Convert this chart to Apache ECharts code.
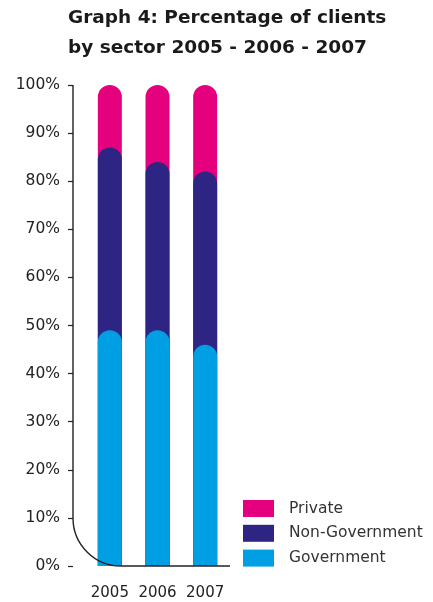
<!DOCTYPE html>
<html lang="en">
<head>
    <meta charset="UTF-8">
    <title>Graph 4</title>
    <script src="https://cdn.jsdelivr.net/npm/echarts@6/dist/echarts.min.js"></script>
    <style>body{margin:0;background:#fff;}</style>
</head>
<body>
<div id="main" style="width: 433px;height:602px;"></div>
<script>
    // data: share of clients per sector, percent
    var years = ['2005', '2006', '2007'];
    var government = [49, 49, 46];
    var nonGovernment = [38, 35, 36];
    var privateSector = [13, 16, 18];
    var yTicks = [0, 10, 20, 30, 40, 50, 60, 70, 80, 90, 100];

    var colors = { priv: '#e5007e', nongov: '#2e2483', gov: '#009fe3' };
    var font = 'DejaVu Sans';

    // each bar is drawn from zero up to the running total, lower sectors on top
    var govTop = government.slice();
    var nongovTop = government.map(function (v, i) { return v + nonGovernment[i]; });
    var privTop = nongovTop.map(function (v, i) { return v + privateSector[i]; });

    var myChart = echarts.init(document.getElementById('main'));

    function barSeries(name, data, color) {
        return {
            name: name,
            type: 'bar',
            data: data,
            barWidth: 24,
            barGap: '-100%',
            itemStyle: { color: color, borderRadius: [12, 12, 0, 0] }
        };
    }

    var option = {
        animation: false,
        title: {
            text: 'Graph 4: Percentage of clients\nby sector 2005 - 2006 - 2007',
            left: 68,
            top: 3,
            padding: 0,
            textStyle: { fontFamily: font, fontSize: 18.5, fontWeight: 'bold', color: '#1a1a1a', lineHeight: 30 }
        },
        legend: {
            data: ['Private', 'Non-Government', 'Government'],
            orient: 'vertical',
            left: 243,
            top: 500,
            padding: 0,
            itemWidth: 31,
            itemHeight: 17,
            itemGap: 7.8,
            icon: 'rect',
            textStyle: { fontFamily: font, fontSize: 15.5, color: '#333', padding: [0, 0, 0, 10] }
        },
        grid: { left: 86, right: 204, top: 85, bottom: 36 },
        xAxis: {
            type: 'category',
            data: years,
            axisLine: { show: false },
            axisTick: { show: false },
            axisLabel: { fontFamily: font, fontSize: 15, color: '#222', margin: 20, interval: 0 }
        },
        yAxis: {
            type: 'value',
            min: yTicks[0],
            max: yTicks[yTicks.length - 1],
            interval: 10,
            offset: 13,
            splitLine: { show: false },
            axisLine: { show: false },
            axisTick: { show: true, length: 5, lineStyle: { color: '#222', width: 1.2 } },
            axisLabel: { fontFamily: font, fontSize: 15.5, color: '#222', margin: 13, formatter: '{value}%' }
        },
        series: [
            barSeries('Private', privTop, colors.priv),
            barSeries('Non-Government', nongovTop, colors.nongov),
            barSeries('Government', govTop, colors.gov)
        ]
    };
    myChart.setOption(option);

    // axis line with the rounded bottom-left corner
    var yTop = myChart.convertToPixel({ yAxisIndex: 0 }, 100);
    var yBot = myChart.convertToPixel({ yAxisIndex: 0 }, 0);
    var axisX = 86 - 13;
    var xEnd = 433 - 204 + 1;
    var r = 48, k = r * 0.552;
    var lineStyle = { stroke: '#222', lineWidth: 1.4, fill: null };
    myChart.setOption({
        graphic: [{
            type: 'line',
            shape: { x1: axisX, y1: yTop, x2: axisX, y2: yBot - r },
            style: lineStyle,
            z: 100
        }, {
            type: 'bezierCurve',
            shape: {
                x1: axisX, y1: yBot - r,
                cpx1: axisX, cpy1: yBot - r + k,
                cpx2: axisX + r - k, cpy2: yBot,
                x2: axisX + r, y2: yBot
            },
            style: lineStyle,
            z: 100
        }, {
            type: 'line',
            shape: { x1: axisX + r, y1: yBot, x2: xEnd, y2: yBot },
            style: lineStyle,
            z: 100
        }]
    });
</script>
</body>
</html>
